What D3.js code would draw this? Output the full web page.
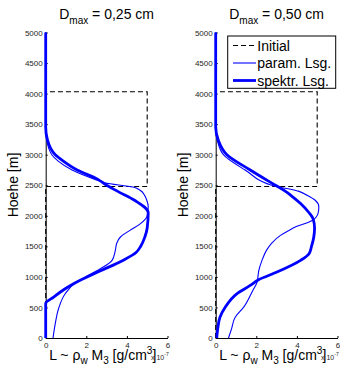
<!DOCTYPE html>
<html>
<head>
<meta charset="utf-8">
<title>Dmax Profile</title>
<style>
  body { margin: 0; background: white; }
  svg { display: block; }
  text { font-family: "Liberation Sans", Arial, Helvetica, sans-serif; }
  .axis text { font-size: 8px; fill: #262626; }
  .axis path, .axis line { stroke: black; stroke-width: 1px; }
</style>
</head>
<body>
<div id="chart"></div>
<script src="https://d3js.org/d3.v7.min.js"></script>
<script>
// ---- data ----
const xTicks = [0, 2, 4, 6];
const yTicks = [0, 500, 1000, 1500, 2000, 2500, 3000, 3500, 4000, 4500, 5000];
const titles = ["0,25 cm", "0,50 cm"];
const legendLabels = ["Initial", "param. Lsg.", "spektr. Lsg."];

// initial profile (same in both panels)
const initialH = [0, 2480, 2480, 4030, 4030, 5000];
const initialL = [0, 0, 5, 5, 0, 0];

// Dmax = 0,25 cm
const param025H = [0, 250, 478, 724, 905, 1000, 1134, 1270, 1434, 1550, 1653, 1762, 1872, 2000, 2150, 2254, 2330, 2418, 2470, 2538, 2600, 2750, 2900, 3000, 3238, 3400, 5000];
const param025L = [0.36, 0.48, 0.63, 0.96, 1.46, 1.95, 2.69, 3.27, 3.43, 3.5, 3.68, 4.15, 4.67, 5.0, 5.05, 4.98, 4.88, 4.65, 4.3, 2.94, 2.4, 1.3, 0.6, 0.3, 0.05, 0, 0];
const spek025H = [0, 565, 669, 806, 905, 1100, 1270, 1400, 1500, 1650, 1800, 2050, 2250, 2400, 2500, 2600, 2750, 2900, 3000, 3250, 3450, 5000];
const spek025L = [0, 0, 0.39, 0.96, 1.46, 2.7, 3.8, 4.45, 4.68, 4.88, 5.0, 5.05, 4.4, 3.55, 3.0, 2.55, 1.55, 0.85, 0.47, 0.08, 0, 0];

// Dmax = 0,50 cm
const param050H = [0, 150, 341, 500, 779, 915, 1000, 1100, 1270, 1434, 1550, 1680, 1750, 1828, 1898, 1930, 1980, 2050, 2150, 2254, 2336, 2400, 2446, 2480, 2750, 3000, 3238, 3400, 5000];
const param050L = [0.63, 0.78, 0.96, 1.37, 1.83, 2.04, 2.08, 2.12, 2.28, 2.5, 2.75, 3.19, 3.55, 4.0, 4.6, 4.8, 4.95, 5.05, 5.08, 4.9, 4.5, 4.1, 3.5, 2.95, 1.45, 0.38, 0.08, 0, 0];
const spek050H = [0, 150, 341, 500, 724, 860, 954, 1079, 1270, 1380, 1500, 1650, 1800, 1950, 2050, 2200, 2336, 2400, 2500, 2750, 3000, 3238, 3450, 5000];
const spek050L = [0.05, 0.1, 0.21, 0.46, 1.04, 1.7, 2.11, 3.02, 4.18, 4.6, 4.72, 4.83, 4.87, 4.8, 4.6, 4.18, 3.7, 3.44, 2.94, 1.7, 0.55, 0.13, 0, 0];

const panels = [
  { left: 45.7, right: 167.5, title: titles[0], paramH: param025H, paramL: param025L, spekH: spek025H, spekL: spek025L, legend: false },
  { left: 215.7, right: 337.5, title: titles[1], paramH: param050H, paramL: param050L, spekH: spek050H, spekL: spek050L, legend: true }
];

const width = 340, height = 367;
const plotTop = 32.5, plotBottom = 338;
const blue = "#0000ff";

const svg = d3.select("#chart").append("svg")
  .attr("width", width)
  .attr("height", height);

const zip = (hs, ls) => hs.map((h, i) => ({ h: h, l: ls[i] }));
const plain = d3.format("d");

panels.forEach(function(p) {
  const x = d3.scaleLinear().domain([0, 6]).range([p.left, p.right]);
  const y = d3.scaleLinear().domain([0, 5000]).range([plotBottom, plotTop]);
  const g = svg.append("g");

  // axes (ticks pointing inwards)
  g.append("g").attr("class", "axis")
    .attr("transform", "translate(0," + plotBottom + ")")
    .call(d3.axisBottom(x).tickValues(xTicks).tickFormat(plain).tickSizeInner(-2).tickSizeOuter(0).tickPadding(4));
  g.append("g").attr("class", "axis")
    .attr("transform", "translate(" + p.left + ",0)")
    .call(d3.axisLeft(y).tickValues(yTicks).tickFormat(plain).tickSizeInner(-2).tickSizeOuter(0).tickPadding(3));

  const smooth = d3.line().x(d => x(d.l)).y(d => y(d.h)).curve(d3.curveMonotoneY);
  const straight = d3.line().x(d => x(d.l)).y(d => y(d.h));

  g.append("path").datum(zip(initialH, initialL))
    .attr("d", straight).attr("fill", "none")
    .attr("stroke", "black").attr("stroke-width", 1.1).attr("stroke-dasharray", "5,3");
  g.append("path").datum(zip(p.paramH, p.paramL))
    .attr("d", smooth).attr("fill", "none")
    .attr("stroke", blue).attr("stroke-width", 1.1);
  g.append("path").datum(zip(p.spekH, p.spekL))
    .attr("d", smooth).attr("fill", "none")
    .attr("stroke", blue).attr("stroke-width", 2.8);

  // title
  const cx = (p.left + p.right) / 2;
  const t = g.append("text").attr("x", cx).attr("y", 19)
    .attr("text-anchor", "middle").attr("font-size", 14).attr("fill", "black");
  t.append("tspan").text("D");
  t.append("tspan").attr("font-size", 10).attr("dy", 5).text("max");
  t.append("tspan").attr("dy", -5).text(" = " + p.title);

  // y label
  g.append("text")
    .attr("transform", "translate(" + (p.left - 27.5) + ",185) rotate(-90)")
    .attr("text-anchor", "middle").attr("font-size", 14).attr("fill", "black")
    .text("Hoehe [m]");

  // x label
  const xl = g.append("text").attr("x", p.left + 3.5).attr("y", 360)
    .attr("font-size", 14).attr("fill", "black");
  xl.append("tspan").text("L ~ ρ");
  xl.append("tspan").attr("font-size", 10).attr("dy", 4).text("w");
  xl.append("tspan").attr("dy", -4).text(" M");
  xl.append("tspan").attr("font-size", 10).attr("dy", 4).text("3");
  xl.append("tspan").attr("dy", -4).text(" [g/cm");
  xl.append("tspan").attr("font-size", 10).attr("dy", -6).text("3");
  xl.append("tspan").attr("dy", 6).text("]");

  // exponent label
  const ex = g.append("text").attr("x", p.right - 16.5).attr("y", 360)
    .attr("font-size", 7).attr("fill", "#262626");
  ex.append("tspan").text("x 10");
  ex.append("tspan").attr("font-size", 5).attr("dy", -4).text("-7");

  if (p.legend) {
    const lg = g.append("g");
    lg.append("rect").attr("x", 227.7).attr("y", 36).attr("width", 108).attr("height", 52.3)
      .attr("fill", "white").attr("stroke", "black").attr("stroke-width", 1);
    const rows = [45.5, 63, 80.5];
    const styles = [
      { stroke: "black", w: 1.1, dash: "5,3" },
      { stroke: blue, w: 1.1, dash: null },
      { stroke: blue, w: 2.8, dash: null }
    ];
    legendLabels.forEach(function(lab, i) {
      lg.append("line").attr("x1", 233).attr("x2", 256).attr("y1", rows[i]).attr("y2", rows[i])
        .attr("stroke", styles[i].stroke).attr("stroke-width", styles[i].w)
        .attr("stroke-dasharray", styles[i].dash);
      lg.append("text").attr("x", 257.3).attr("y", rows[i] + 5)
        .attr("font-size", 14).attr("fill", "black").text(lab);
    });
  }
});
</script>
</body>
</html>
